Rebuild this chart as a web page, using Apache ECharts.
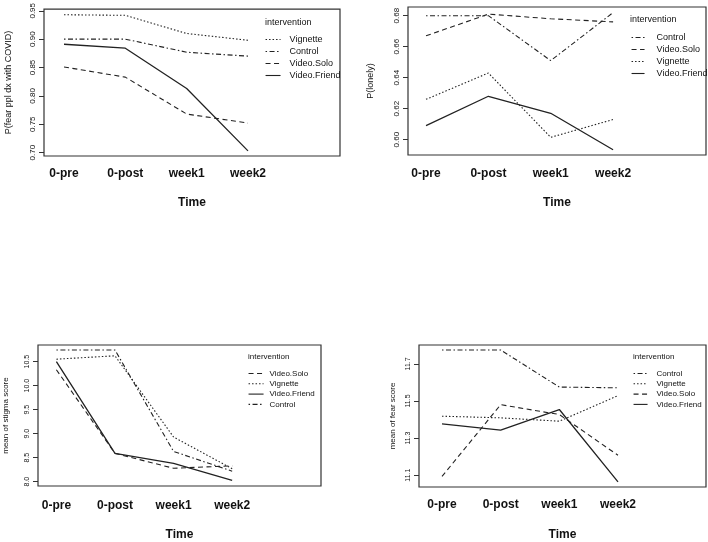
<!DOCTYPE html>
<html>
<head>
<meta charset="utf-8">
<script src="https://cdn.jsdelivr.net/npm/echarts@6/dist/echarts.min.js"></script>
<style>
html,body{margin:0;padding:0;background:#fff;}
#chart{width:708px;height:542px;}
</style>
</head>
<body>
<div id="chart"></div>
<script>
// ---------- data ----------
const timeLabels = ['0-pre', '0-post', 'week1', 'week2'];
const groupNames = ['Vignette', 'Control', 'Video.Solo', 'Video.Friend'];

// Panel 1: P(fear ppl dx with COVID)
const fearPpl_Vignette    = [0.943, 0.942, 0.910, 0.898];
const fearPpl_Control     = [0.900, 0.900, 0.877, 0.870];
const fearPpl_VideoSolo   = [0.851, 0.833, 0.768, 0.752];
const fearPpl_VideoFriend = [0.891, 0.884, 0.813, 0.703];
const fearPplTicks = [0.70, 0.75, 0.80, 0.85, 0.90, 0.95];

// Panel 2: P(lonely)
const lonely_Control     = [0.680, 0.680, 0.651, 0.682];
const lonely_VideoSolo   = [0.667, 0.681, 0.678, 0.676];
const lonely_Vignette    = [0.626, 0.643, 0.6015, 0.613];
const lonely_VideoFriend = [0.609, 0.628, 0.617, 0.5935];
const lonelyTicks = [0.60, 0.62, 0.64, 0.66, 0.68];

// Panel 3: mean of stigma score
const stigma_VideoSolo   = [10.33, 8.59, 8.28, 8.33];
const stigma_Vignette    = [10.55, 10.62, 8.93, 8.27];
const stigma_VideoFriend = [10.50, 8.59, 8.38, 8.03];
const stigma_Control     = [10.74, 10.74, 8.63, 8.22];
const stigmaTicks = [8.0, 8.5, 9.0, 9.5, 10.0, 10.5];

// Panel 4: mean of fear score
const fearScore_Control     = [11.775, 11.775, 11.575, 11.571];
const fearScore_Vignette    = [11.418, 11.409, 11.391, 11.529];
const fearScore_VideoSolo   = [11.093, 11.480, 11.427, 11.207];
const fearScore_VideoFriend = [11.377, 11.343, 11.454, 11.064];
const fearScoreTicks = [11.1, 11.3, 11.5, 11.7];

// ---------- styles ----------
const FONT = 'Liberation Sans, Arial, Helvetica, sans-serif';
const LINE_COLOR = '#222';
const dashOf = {
  'Vignette': [1.5, 2],
  'Control': [1.5, 2.5, 5, 2.5],
  'Video.Solo': [5, 3.5],
  'Video.Friend': 'solid'
};

const panels = [
  { grid: {left: 44, top: 9, width: 296, height: 147}, xMin: 0.674, xMax: 5.50,
    yMin: 0.694, yMax: 0.953, ticks: fearPplTicks, dec: 2, yName: 'P(fear ppl dx with COVID)',
    yNameGap: 31, yNameSize: 9, labelSize: 8, xLabelMargin: 12, xNameGap: 41,
    order: ['Vignette', 'Control', 'Video.Solo', 'Video.Friend'],
    values: {'Vignette': fearPpl_Vignette, 'Control': fearPpl_Control, 'Video.Solo': fearPpl_VideoSolo, 'Video.Friend': fearPpl_VideoFriend},
    legend: {left: 265, top: 35, itemWidth: 15, itemHeight: 8, itemGap: 3, fontSize: 9, pad: 4},
    title: {left: 265, top: 18.5, fontSize: 9} },
  { grid: {left: 408, top: 7, width: 298, height: 148}, xMin: 0.711, xMax: 5.49,
    yMin: 0.5901, yMax: 0.6856, ticks: lonelyTicks, dec: 2, yName: 'P(lonely)',
    yNameGap: 33, yNameSize: 9, labelSize: 8, xLabelMargin: 13, xNameGap: 42,
    order: ['Control', 'Video.Solo', 'Vignette', 'Video.Friend'],
    values: {'Control': lonely_Control, 'Video.Solo': lonely_VideoSolo, 'Vignette': lonely_Vignette, 'Video.Friend': lonely_VideoFriend},
    legend: {left: 631, top: 33, itemWidth: 13, itemHeight: 8, itemGap: 3, fontSize: 9, pad: 7},
    title: {left: 630, top: 15.5, fontSize: 9} },
  { grid: {left: 38, top: 345, width: 283, height: 142}, xMin: 0.686, xMax: 5.516,
    yMin: 7.911, yMax: 10.845, ticks: stigmaTicks, dec: 1, yName: 'mean of stigma score',
    yNameGap: 28, yNameSize: 8, labelSize: 7, xLabelMargin: 14, xNameGap: 43,
    order: ['Video.Solo', 'Vignette', 'Video.Friend', 'Control'],
    values: {'Video.Solo': stigma_VideoSolo, 'Vignette': stigma_Vignette, 'Video.Friend': stigma_VideoFriend, 'Control': stigma_Control},
    legend: {left: 248, top: 369.5, itemWidth: 15, itemHeight: 7, itemGap: 2.3, fontSize: 8, pad: 1},
    title: {left: 248, top: 353, fontSize: 8} },
  { grid: {left: 419, top: 345, width: 287, height: 143}, xMin: 0.608, xMax: 5.50,
    yMin: 11.036, yMax: 11.802, ticks: fearScoreTicks, dec: 1, yName: 'mean of fear score',
    yNameGap: 22, yNameSize: 8, labelSize: 7, xLabelMargin: 12, xNameGap: 42,
    order: ['Control', 'Vignette', 'Video.Solo', 'Video.Friend'],
    values: {'Control': fearScore_Control, 'Vignette': fearScore_Vignette, 'Video.Solo': fearScore_VideoSolo, 'Video.Friend': fearScore_VideoFriend},
    legend: {left: 633, top: 369.5, itemWidth: 14, itemHeight: 7, itemGap: 2.3, fontSize: 8, pad: 4},
    title: {left: 633, top: 353, fontSize: 8} }
];

const option = {
  animation: false,
  backgroundColor: '#fff',
  textStyle: {fontFamily: FONT, color: '#000'},
  grid: [], xAxis: [], yAxis: [], series: [], legend: [], title: []
};

panels.forEach((p, gi) => {
  option.grid.push(Object.assign({show: true, borderColor: '#333', borderWidth: 1.2, backgroundColor: 'transparent'}, p.grid));
  option.xAxis.push({
    type: 'value', gridIndex: gi, min: p.xMin, max: p.xMax,
    axisLine: {show: false}, axisTick: {show: false}, splitLine: {show: false},
    axisLabel: {
      customValues: [1, 2, 3, 4], margin: p.xLabelMargin,
      fontSize: 12, fontWeight: 'bold', color: '#111', fontFamily: FONT,
      formatter: v => timeLabels[Math.round(v) - 1] || ''
    },
    name: 'Time', nameLocation: 'middle', nameGap: p.xNameGap,
    nameTextStyle: {fontSize: 12, fontWeight: 'bold', color: '#111', fontFamily: FONT}
  });
  option.yAxis.push({
    type: 'value', gridIndex: gi, min: p.yMin, max: p.yMax,
    axisLine: {show: false}, splitLine: {show: false},
    axisTick: {show: true, customValues: p.ticks, length: 5, lineStyle: {color: '#333', width: 1}},
    axisLabel: {
      customValues: p.ticks, rotate: 90, margin: 7, fontSize: p.labelSize, color: '#111', fontFamily: FONT,
      formatter: v => Number(v).toFixed(p.dec)
    },
    name: p.yName, nameLocation: 'middle', nameGap: p.yNameGap, nameRotate: 90,
    nameTextStyle: {fontSize: p.yNameSize, color: '#111', fontFamily: FONT}
  });
  p.order.forEach(name => {
    option.series.push({
      type: 'line', name: name, xAxisIndex: gi, yAxisIndex: gi,
      symbol: 'none', silent: true,
      lineStyle: {color: LINE_COLOR, width: name === 'Video.Friend' ? 1.3 : 1.1, type: dashOf[name]},
      itemStyle: {color: LINE_COLOR},
      data: p.values[name].map((v, i) => [i + 1, v])
    });
  });
  option.legend.push({
    data: p.order, orient: 'vertical', left: p.legend.left, top: p.legend.top,
    itemWidth: p.legend.itemWidth, itemHeight: p.legend.itemHeight, itemGap: p.legend.itemGap,
    padding: 0, selectedMode: false,
    itemStyle: {color: 'rgba(0,0,0,0)', borderColor: 'rgba(0,0,0,0)', borderWidth: 0, opacity: 0},
    lineStyle: {color: LINE_COLOR, width: 1.1},
    textStyle: {fontSize: p.legend.fontSize, color: '#111', fontFamily: FONT, lineHeight: p.legend.itemHeight, padding: [0, 0, 0, p.legend.pad]}
  });
  option.title.push({
    text: 'intervention', left: p.title.left, top: p.title.top, padding: 0,
    textStyle: {fontSize: p.title.fontSize, fontWeight: 'normal', color: '#111', fontFamily: FONT}
  });
});

const chart = echarts.init(document.getElementById('chart'), null, {renderer: 'canvas'});
chart.setOption(option);
</script>
</body>
</html>
